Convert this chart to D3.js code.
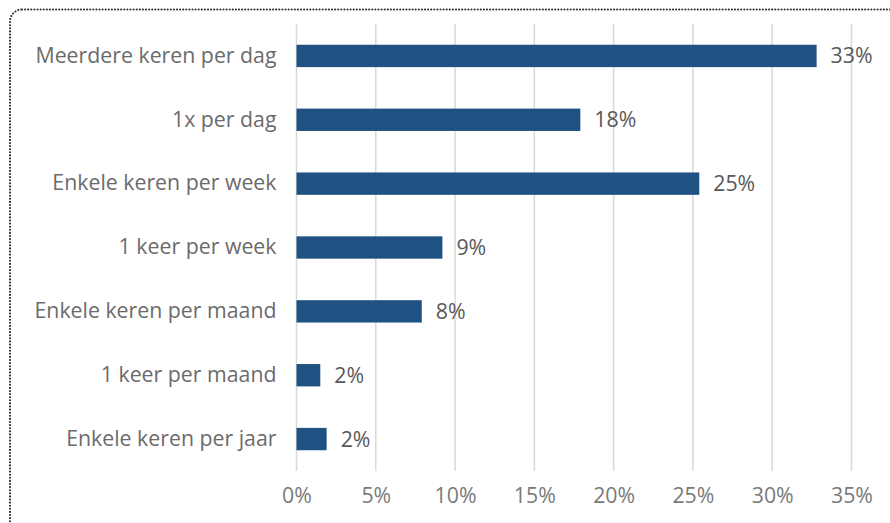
<!DOCTYPE html>
<html>
<head>
<meta charset="utf-8">
<script src="https://cdn.jsdelivr.net/npm/d3@7"></script>
<style>
  html, body { margin: 0; padding: 0; background: #fff; }
  svg { display: block; }
</style>
</head>
<body>
<div id="chart"></div>
<script>
const categories = [
  "Meerdere keren per dag",
  "1x per dag",
  "Enkele keren per week",
  "1 keer per week",
  "Enkele keren per maand",
  "1 keer per maand",
  "Enkele keren per jaar"
];
const values = [32.8, 17.9, 25.4, 9.2, 7.9, 1.5, 1.9];
const valueLabels = ["33%", "18%", "25%", "9%", "8%", "2%", "2%"];
const ticks = [0, 5, 10, 15, 20, 25, 30, 35];

const W = 890, H = 523;
const margin = { left: 296.5, right: 38.5, top: 24, bottom: 52 };
const font = "'Open Sans', 'Noto Sans', sans-serif";
const fs = 21.3;

const svg = d3.select("#chart").append("svg").attr("width", W).attr("height", H);

// dotted rounded border
svg.append("rect")
  .attr("x", 10).attr("y", 9.5)
  .attr("width", 900).attr("height", 540)
  .attr("rx", 12)
  .attr("fill", "none")
  .attr("stroke", "#2a2a2a")
  .attr("stroke-width", 2.1)
  .attr("stroke-linecap", "round")
  .attr("stroke-dasharray", "0,3.1");

const x = d3.scaleLinear().domain([0, 35]).range([margin.left, W - margin.right]);
const y = d3.scaleBand().domain(categories).range([margin.top, H - margin.bottom]).paddingInner(0.65).paddingOuter(0.325);

// gridlines
svg.append("g").selectAll("line").data(ticks).join("line")
  .attr("x1", d => x(d)).attr("x2", d => x(d))
  .attr("y1", margin.top).attr("y2", H - margin.bottom)
  .attr("stroke", "#d9d9d9").attr("stroke-width", 1.5);

// x axis tick labels
const xAxis = d3.axisBottom(x).tickValues(ticks).tickFormat(d => d + "%").tickSize(0).tickPadding(0);
const gx = svg.append("g").attr("transform", `translate(0,${H - margin.bottom + 17})`).call(xAxis);
gx.select(".domain").remove();
gx.selectAll("text").attr("font-family", font).attr("font-size", fs).attr("fill", "#7a7a7a");

// y axis labels
const yAxis = d3.axisLeft(y).tickSize(0).tickPadding(20);
const gy = svg.append("g").attr("transform", `translate(${margin.left},0)`).call(yAxis);
gy.select(".domain").remove();
gy.selectAll("text").attr("font-family", font).attr("font-size", fs).attr("fill", "#6b6b6b");

// bars
svg.append("g").selectAll("rect").data(values).join("rect")
  .attr("x", x(0))
  .attr("y", (d, i) => y(categories[i]))
  .attr("width", d => x(d) - x(0))
  .attr("height", y.bandwidth())
  .attr("fill", "#1f5283");

// value labels
svg.append("g").selectAll("text").data(values).join("text")
  .attr("x", d => x(d) + 14)
  .attr("y", (d, i) => y(categories[i]) + y.bandwidth() / 2)
  .attr("dy", "0.35em")
  .attr("font-family", font).attr("font-size", fs).attr("fill", "#595959")
  .text((d, i) => valueLabels[i]);
</script>
</body>
</html>
